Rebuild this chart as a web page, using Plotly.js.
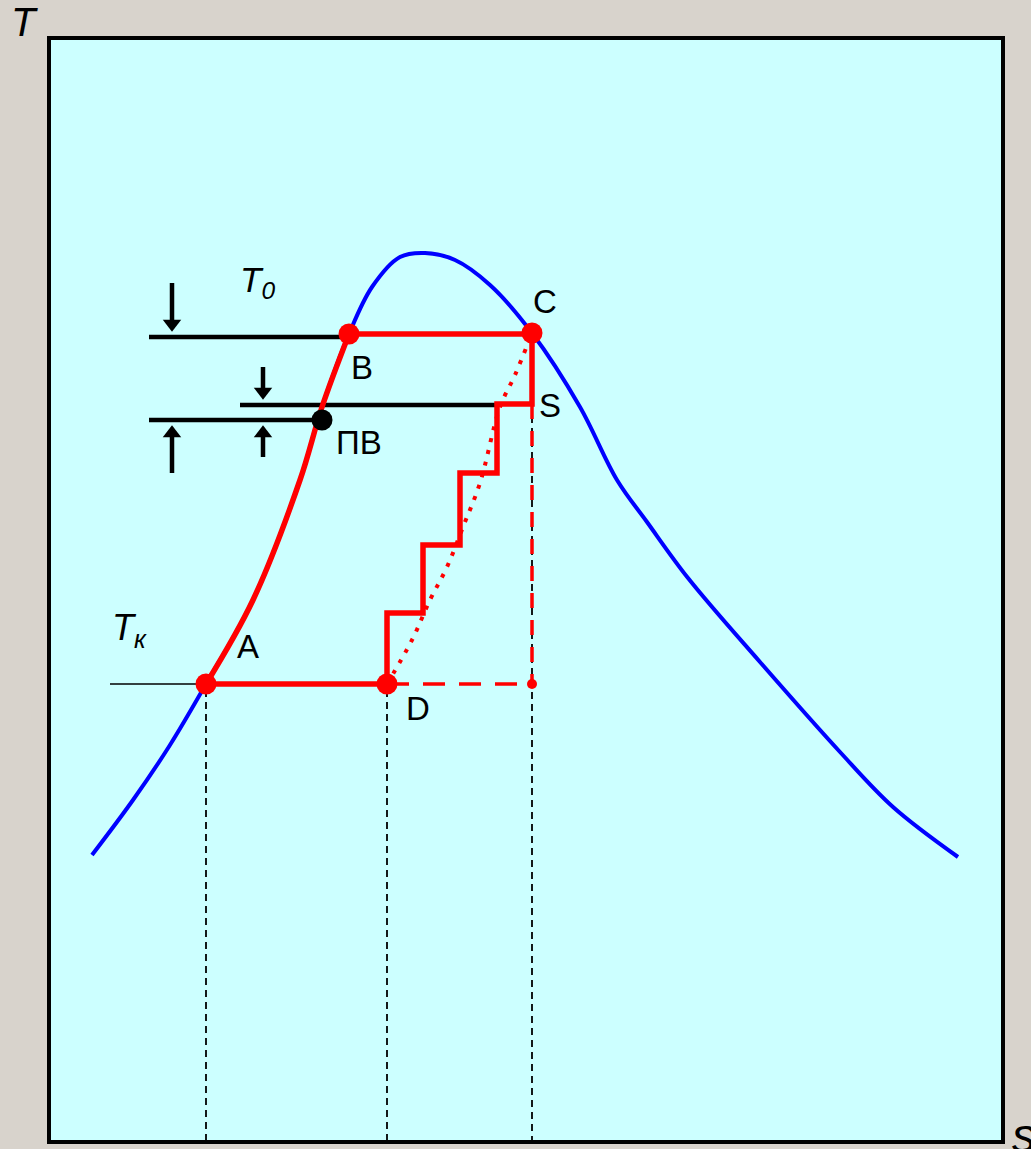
<!DOCTYPE html>
<html><head><meta charset="utf-8">
<script src="https://cdn.plot.ly/plotly-3.0.1.min.js"></script>
<style>html,body{margin:0;padding:0;background:#d8d3cc;overflow:hidden}#chart{width:1031px;height:1149px;}</style>
</head><body><div id="chart"></div>
<script>
// Units (s to the right, T axis drawn reversed)
// Saturation dome
const domeS = [92,133,170,206,253,300,322,349,372,400,425,455,490,532,580,617,647,688,760,840,893,958];
const domeT = [855,800,745,684,600,480,407,334,287,257,253,260,285,333,407,480,522,578,662,752,807,857];
// Cycle: A -> B (liquid heating)
const heatS = [206,253,300,322,349];
const heatT = [684,600,480,407,334];
// B -> C (boiling)
const boilS = [349,532];
const boilT = [334,334];
// C -> D stepwise expansion
const stepS = [532,532,497,497,460,460,423,423,387,387];
const stepT = [333,404,404,473,473,545,545,613,613,684];
// D -> A (condensation)
const condS = [387,206];
const condT = [684,684];
// Dotted D -> C curve
const dotS = [387,412,430,447,463,480,500,515,532];
const dotT = [684,640,600,567,527,483,407,375,333];
// Red dashed ideal lines
const idealVS = [532,532];
const idealVT = [404,684];
const idealHS = [387,532];
const idealHT = [684,684];
// Black dashed projections
const projS = [206,387,532];
const projTop = [690,690,404];
const projBottom = 1142;
// Level lines T0, feedwater
const levelY = [337,405,420];
const levelX0 = [149,240,149];
const levelX1 = [349,497,322];
// Tk thin line
const tkS = [110,206];
const tkT = [684,684];
// Points
const ptS = [206,349,532,387];
const ptT = [684,334,333,684];
const pvS = [322], pvT = [420];
const endS = [532], endT = [684];
// Arrows: x, tip, tail, direction
const arrX = [172,263,172,263];
const arrTip = [335,403,422,422];
const arrTail = [283,367,473,457];
const arrDir = ['down','down','up','up'];
// Labels
const lblText = ['C','B','S','ПВ','A','D'];
const lblS = [545,362,550,359,248,418];
const lblT = [301,367,405,442,646,708];
// Axis labels (paper fractions)
const axText = ['<i>T</i>','<i>s</i>'];
const axX = [-0.0262,1.022];
const axY = [1.0145,0.0063];
const axSize = [40,48];

const RED = '#ff0000', BLUE = '#0000ff';
const traces = [];
traces.push({x:domeS,y:domeT,mode:'lines',line:{color:BLUE,width:4,shape:'spline',smoothing:1}});
projS.forEach((s,i)=>traces.push({x:[s,s],y:[projTop[i],projBottom],mode:'lines',line:{color:'#000',width:1.8,dash:'7px,5px'}}));
traces.push({x:tkS,y:tkT,mode:'lines',line:{color:'#000',width:1.5}});
levelY.forEach((y,i)=>traces.push({x:[levelX0[i],levelX1[i]],y:[y,y],mode:'lines',line:{color:'#000',width:4.5}}));
// arrows
const HS = 16, tipOff = HS/2*Math.SQRT2, baseOff = HS/2*0.5 + tipOff;
arrX.forEach((x,i)=>{
  const d = arrDir[i]==='down'?1:-1;
  traces.push({x:[x,x],y:[arrTail[i],arrTip[i]-d*(baseOff-2)],mode:'lines',line:{color:'#000',width:4.5}});
  traces.push({x:[x],y:[arrTip[i]-d*tipOff],mode:'markers',marker:{symbol:d>0?'triangle-down':'triangle-up',size:HS,color:'#000',line:{width:0}}});
});
traces.push({x:idealVS,y:idealVT,mode:'lines',line:{color:RED,width:3.5,dash:'15px,12px'}});
traces.push({x:idealHS,y:idealHT,mode:'lines',line:{color:RED,width:3.5,dash:'22px,14px'}});
traces.push({x:dotS,y:dotT,mode:'lines',line:{color:RED,width:4,dash:'4px,8px',shape:'spline',smoothing:1}});
traces.push({x:heatS,y:heatT,mode:'lines',line:{color:RED,width:5.5,shape:'spline',smoothing:1}});
traces.push({x:boilS,y:boilT,mode:'lines',line:{color:RED,width:5.5}});
traces.push({x:stepS,y:stepT,mode:'lines',line:{color:RED,width:5.5}});
traces.push({x:condS,y:condT,mode:'lines',line:{color:RED,width:5.5}});
traces.push({x:ptS,y:ptT,mode:'markers',marker:{color:RED,size:21,line:{width:0}}});
traces.push({x:endS,y:endT,mode:'markers',marker:{color:RED,size:10,line:{width:0}}});
traces.push({x:pvS,y:pvT,mode:'markers',marker:{color:'#000',size:21,line:{width:0}}});

const FONT = 'Liberation Sans, Arial, sans-serif';
const ann = lblText.map((t,i)=>({x:lblS[i],y:lblT[i],xref:'x',yref:'y',xanchor:'center',yanchor:'middle',text:t,showarrow:false,font:{family:FONT,size:33,color:'#000'}}));
ann.push({x:257,y:282,xref:'x',yref:'y',xanchor:'center',yanchor:'middle',text:'<i>T<sub>0</sub></i>',showarrow:false,font:{family:FONT,size:35,color:'#000'}});
ann.push({x:129,y:630,xref:'x',yref:'y',xanchor:'center',yanchor:'middle',text:'<i>T<sub>к</sub></i>',showarrow:false,font:{family:FONT,size:36,color:'#000'}});
axText.forEach((t,i)=>ann.push({x:axX[i],y:axY[i],xref:'paper',yref:'paper',xanchor:'center',yanchor:'middle',text:t,showarrow:false,font:{family:FONT,size:axSize[i],color:'#000'}}));

const layout = {
  width:1031,height:1149,
  margin:{l:49,r:28,t:38,b:7,pad:0},
  paper_bgcolor:'#d8d3cc',plot_bgcolor:'#ccffff',
  showlegend:false,
  xaxis:{range:[49,1003],showgrid:false,zeroline:false,showticklabels:false,ticks:'',fixedrange:true},
  yaxis:{range:[1142,38],showgrid:false,zeroline:false,showticklabels:false,ticks:'',fixedrange:true},
  shapes:[{type:'rect',xref:'paper',yref:'paper',x0:0,x1:1,y0:0,y1:1,line:{color:'#000',width:4},layer:'above'}],
  annotations:ann
};
Plotly.newPlot('chart',traces,layout,{staticPlot:true,displayModeBar:false});
</script></body></html>
